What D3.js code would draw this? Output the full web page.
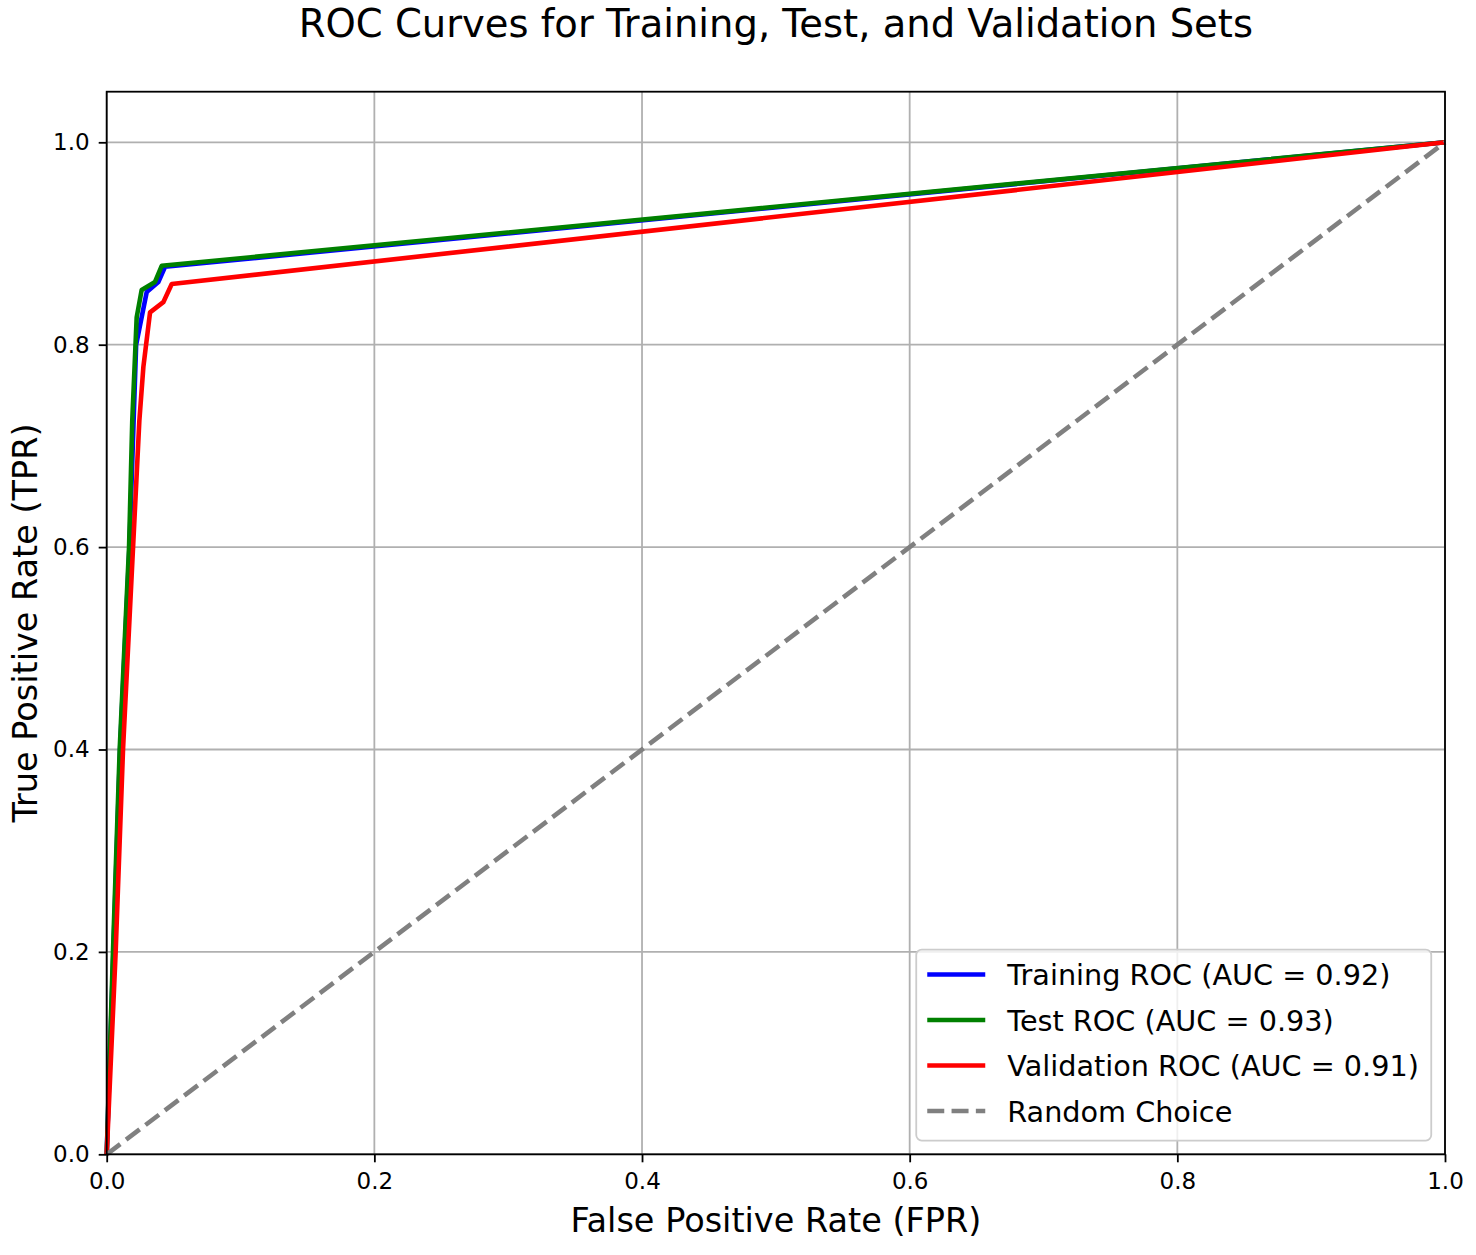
<!DOCTYPE html>
<html>
<head>
<meta charset="utf-8">
<script src="https://cdn.jsdelivr.net/npm/d3@7"></script>
<style>
  html, body { margin: 0; padding: 0; background: #fff; }
  svg text { font-family: "DejaVu Sans", sans-serif; fill: #000; }
</style>
</head>
<body>
<svg id="canvas" width="1476" height="1255"></svg>
<script>
// ROC curves, values (fpr, tpr)
let trainFpr = [0, 0.005, 0.010, 0.017, 0.020, 0.022, 0.0299, 0.0386, 0.0436, 1];
let trainTpr = [0, 0.20, 0.40, 0.60, 0.72, 0.80, 0.852, 0.862, 0.877, 1];

let testFpr = [0, 0.0047, 0.0097, 0.0167, 0.0191, 0.0224, 0.0261, 0.0361, 0.0411, 1];
let testTpr = [0, 0.20, 0.40, 0.60, 0.725, 0.827, 0.854, 0.862, 0.878, 1];

let valFpr = [0, 0.0067, 0.0122, 0.0197, 0.0244, 0.0274, 0.0324, 0.0423, 0.0486, 1];
let valTpr = [0, 0.20, 0.40, 0.60, 0.725, 0.778, 0.832, 0.842, 0.860, 1];

let randFpr = [0, 1];
let randTpr = [0, 1];

let seriesNames = ['Training ROC (AUC = 0.92)', 'Test ROC (AUC = 0.93)', 'Validation ROC (AUC = 0.91)', 'Random Choice'];
let seriesColors = ['#0000ff', '#008000', '#ff0000', '#808080'];

let xTicks = [0, 0.2, 0.4, 0.6, 0.8, 1.0];
let yTicks = [0, 0.2, 0.4, 0.6, 0.8, 1.0];

let titleText = 'ROC Curves for Training, Test, and Validation Sets';
let xLabelText = 'False Positive Rate (FPR)';
let yLabelText = 'True Positive Rate (TPR)';

// layout of the axes box
let plotLeft = 106.7, plotRight = 1445, plotTop = 91.7, plotBottom = 1154.3;

let canvas = d3.select('#canvas');

let x = d3.scaleLinear().domain([0, 1]).range([plotLeft, plotRight]);
let y = d3.scaleLinear().domain([0, 1.05]).range([plotBottom, plotTop]);

// grid
let grid = canvas.append('g');
grid.selectAll('line.gx').data(xTicks).enter().append('line')
    .attr('x1', d => x(d)).attr('x2', d => x(d))
    .attr('y1', plotTop).attr('y2', plotBottom)
    .attr('stroke', '#b0b0b0').attr('stroke-width', 1.8);
grid.selectAll('line.gy').data(yTicks).enter().append('line')
    .attr('x1', plotLeft).attr('x2', plotRight)
    .attr('y1', d => y(d)).attr('y2', d => y(d))
    .attr('stroke', '#b0b0b0').attr('stroke-width', 1.8);

// curves
let zip = (xs, ys) => xs.map((v, i) => [v, ys[i]]);
let curves = [
    zip(trainFpr, trainTpr),
    zip(testFpr, testTpr),
    zip(valFpr, valTpr),
    zip(randFpr, randTpr)
];

let line = d3.line().x(d => x(d[0])).y(d => y(d[1]));

let plot = canvas.append('g');
curves.forEach((pts, i) => {
    plot.append('path')
        .attr('d', line(pts))
        .attr('fill', 'none')
        .attr('stroke', seriesColors[i])
        .attr('stroke-width', 4.6)
        .attr('stroke-linejoin', 'round')
        .attr('stroke-dasharray', i === 3 ? '17,7.3' : null);
});

// axes
let xAxis = d3.axisBottom(x).tickValues(xTicks).tickFormat(d3.format('.1f')).tickSize(8).tickPadding(10.5);
let yAxis = d3.axisLeft(y).tickValues(yTicks).tickFormat(d3.format('.1f')).tickSize(8).tickPadding(9);

let gx = canvas.append('g').attr('transform', `translate(0,${plotBottom})`).call(xAxis);
let gy = canvas.append('g').attr('transform', `translate(${plotLeft},0)`).call(yAxis);
[gx, gy].forEach(g => {
    g.select('.domain').remove();
    g.selectAll('line').attr('stroke', '#000').attr('stroke-width', 1.8);
    g.selectAll('text').attr('font-size', 23).attr('font-family', '"DejaVu Sans", sans-serif').attr('fill', '#000');
});

// frame
canvas.append('rect')
    .attr('x', plotLeft).attr('y', plotTop)
    .attr('width', plotRight - plotLeft).attr('height', plotBottom - plotTop)
    .attr('fill', 'none').attr('stroke', '#000').attr('stroke-width', 1.8);

// title and labels
canvas.append('text')
    .attr('x', (plotLeft + plotRight) / 2).attr('y', 37)
    .attr('text-anchor', 'middle').attr('font-size', 38.5)
    .text(titleText);

canvas.append('text')
    .attr('x', (plotLeft + plotRight) / 2).attr('y', 1231.5)
    .attr('text-anchor', 'middle').attr('font-size', 33.5)
    .text(xLabelText);

canvas.append('text')
    .attr('transform', `translate(37,${(plotTop + plotBottom) / 2}) rotate(-90)`)
    .attr('text-anchor', 'middle').attr('font-size', 33.5)
    .text(yLabelText);

// legend
let legFont = 28.7;
let legW = 515, legH = 191;
let legX = plotRight - 13.75 - legW, legY = plotBottom - 13.75 - legH;
let legend = canvas.append('g').attr('transform', `translate(${legX},${legY})`);
legend.append('rect')
    .attr('width', legW).attr('height', legH)
    .attr('rx', 5.5).attr('ry', 5.5)
    .attr('fill', '#fff').attr('fill-opacity', 0.8)
    .attr('stroke', '#cccccc').attr('stroke-width', 1.8);

let rows = legend.selectAll('g.row').data(seriesNames).enter().append('g')
    .attr('transform', (d, i) => `translate(11,${25 + i * 45.5})`);
rows.append('line')
    .attr('x1', 0).attr('x2', 58).attr('y1', 0).attr('y2', 0)
    .attr('stroke', (d, i) => seriesColors[i])
    .attr('stroke-width', 4.6)
    .attr('stroke-dasharray', (d, i) => i === 3 ? '17,7.3' : null);
rows.append('text')
    .attr('x', 80).attr('y', 10.5)
    .attr('font-size', legFont)
    .text(d => d);
</script>
</body>
</html>
